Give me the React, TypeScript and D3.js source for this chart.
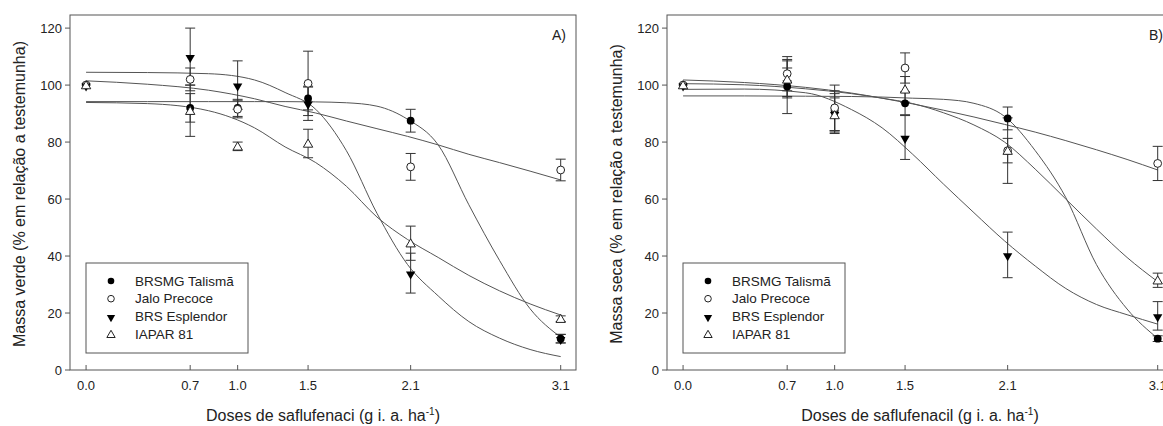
import React from "react";
import * as d3 from "d3";

const W = 1163;
const H = 426;
const FONT = "'Liberation Sans', Arial, sans-serif";

// doses (x position as plotted) and their printed labels
const doses = [0, 0.68, 0.99, 1.45, 2.12, 3.1];
const doseLabels = ["0.0", "0.7", "1.0", "1.5", "2.1", "3.1"];
const yTicks = [0, 20, 40, 60, 80, 100, 120];
const cultivars = ["BRSMG Talismã", "Jalo Precoce", "BRS Esplendor", "IAPAR 81"];

// fitted curves at these doses
const curveDoses = [0, 0.4, 0.8, 1.1, 1.3, 1.5, 1.7, 1.9, 2.1, 2.3, 2.5, 2.7, 2.9, 3.1];

// A) massa verde
const verdeTalisma = [100, 92, 92, 95.3, 87.5, 11];
const verdeTalismaErr = [0, 5, 3, 4, 4, 1.5];
const verdeJalo = [100, 102, 91.5, 100.6, 71.3, 70.2];
const verdeJaloErr = [0, 4, 3, 11.3, 4.7, 3.8];
const verdeEsplendor = [100, 110, 100, 93.6, 34, 11];
const verdeEsplendorErr = [0, 10, 8.5, 6, 7, 1.5];
const verdeIapar = [100, 91, 78.5, 79.5, 44.5, 18];
const verdeIaparErr = [0, 9, 1.5, 5, 6, 1];

const verdeTalismaFit = [94.2, 94.2, 94.2, 94.2, 94.2, 94.1, 93.8, 92.6, 88, 79, 58, 38.5, 21.5, 11.5];
const verdeJaloFit = [101.5, 100.3, 98.2, 95.2, 92.5, 90.2, 87.4, 84.7, 82, 79, 75.7, 72.8, 69.8, 66.7];
const verdeEsplendorFit = [104.5, 104.4, 104, 101.8, 97.4, 91.5, 77, 55, 37, 26, 17, 11.2, 7.2, 4.7];
const verdeIaparFit = [93.9, 93.5, 91, 85, 78.3, 72.8, 64.5, 53.7, 45.8, 39.5, 33.2, 27.8, 23.2, 19.3];

// B) massa seca
const secaTalisma = [100, 99.5, 91, 93.6, 88.3, 11];
const secaTalismaErr = [0, 9.5, 7, 4, 4, 1];
const secaJalo = [100, 104, 92, 106, 77, 72.5];
const secaJaloErr = [0, 6, 8, 5.3, 4.3, 6];
const secaEsplendor = [100, 101, 90, 81.6, 40.4, 19];
const secaEsplendorErr = [0, 5, 7, 7.7, 8, 5];
const secaIapar = [100, 102, 89.5, 98.5, 77, 31.5];
const secaIaparErr = [0, 6.5, 6, 4.5, 11.5, 2.5];

const secaTalismaFit = [96.2, 96.2, 96.1, 96, 95.8, 95.4, 95, 93.6, 89, 77, 60.5, 37, 21.4, 11.1];
const secaJaloFit = [101.8, 100.9, 99.2, 97.2, 95.4, 93.4, 91.2, 88.8, 86.2, 83.5, 80.5, 77.3, 73.9, 70.2];
const secaEsplendorFit = [98.5, 98.6, 97.3, 91.4, 85, 75.7, 65.3, 55.2, 45.3, 36.5, 28.6, 23, 19.4, 16.1];
const secaIaparFit = [100.5, 100.1, 98.7, 97, 95.4, 93.5, 90.3, 86, 80, 70.5, 60, 49.5, 39.5, 31];

const shapes = ["dot", "ring", "down", "up"];

const makeSeries = (vals, errs, fits) =>
  cultivars.map((name, i) => ({ name, shape: shapes[i], values: vals[i], err: errs[i], fit: fits[i] }));

const verdeSeries = makeSeries(
  [verdeTalisma, verdeJalo, verdeEsplendor, verdeIapar],
  [verdeTalismaErr, verdeJaloErr, verdeEsplendorErr, verdeIaparErr],
  [verdeTalismaFit, verdeJaloFit, verdeEsplendorFit, verdeIaparFit]
);
const secaSeries = makeSeries(
  [secaTalisma, secaJalo, secaEsplendor, secaIapar],
  [secaTalismaErr, secaJaloErr, secaEsplendorErr, secaIaparErr],
  [secaTalismaFit, secaJaloFit, secaEsplendorFit, secaIaparFit]
);

const tri = d3.symbol(d3.symbolTriangle, 38)();
const triSmall = d3.symbol(d3.symbolTriangle, 30)();

const Marker = ({ shape, x, y, small = false }) => {
  const r = small ? 3.3 : 3.9;
  const p = small ? triSmall : tri;
  if (shape === "dot") return <circle cx={x} cy={y} r={r} fill="#000" />;
  if (shape === "ring") return <circle cx={x} cy={y} r={r} fill="#fff" stroke="#222" strokeWidth={1} />;
  if (shape === "down")
    return <path d={p} transform={`translate(${x},${y + 1}) rotate(180)`} fill="#000" />;
  return <path d={p} transform={`translate(${x},${y + 1})`} fill="#fff" stroke="#222" strokeWidth={1} />;
};

const TOP = 15;
const BOTTOM = 370;
const PW = 506;

const Panel = ({ left, series, tag, yTitle, xTitle }) => {
  const x = d3.scaleLinear().domain([-0.105, 3.2]).range([left, left + PW]);
  const y = d3.scaleLinear().domain([0, 124.6]).range([BOTTOM, TOP]);
  const line = d3
    .line()
    .x((d) => x(d[0]))
    .y((d) => y(d[1]))
    .curve(d3.curveMonotoneX);
  const cx = left + PW / 2;
  const lgX = left + 16;
  const lgY = 263;

  return (
    <g fontFamily={FONT}>
      <rect x={left} y={TOP} width={PW} height={BOTTOM - TOP} fill="none" stroke="#555" strokeWidth={1} />
      {yTicks.map((t) => (
        <g key={t}>
          <line x1={left - 5} x2={left} y1={y(t)} y2={y(t)} stroke="#555" />
          <text x={left - 8} y={y(t)} dy="0.35em" textAnchor="end" fontSize={13} fill="#222">
            {t}
          </text>
        </g>
      ))}
      {doses.map((d, i) => (
        <g key={i}>
          <line x1={x(d)} x2={x(d)} y1={BOTTOM} y2={BOTTOM - 5} stroke="#555" />
          <text x={x(d)} y={390} textAnchor="middle" fontSize={13} fill="#222">
            {doseLabels[i]}
          </text>
        </g>
      ))}
      <text
        transform={`translate(${left - 45},194) rotate(-90)`}
        textAnchor="middle"
        fontSize={16}
        fill="#222"
      >
        {yTitle}
      </text>
      <text x={cx} y={421} textAnchor="middle" fontSize={16} fill="#222">
        {xTitle} (g i. a. ha
        <tspan dy={-6} fontSize={10}>-1</tspan>
        <tspan dy={6}>)</tspan>
      </text>
      <text x={left + 482} y={40} fontSize={14} fill="#222">
        {tag}
      </text>

      {series.map((s) => (
        <path
          key={s.name}
          d={line(curveDoses.map((d, i) => [d, s.fit[i]]))}
          fill="none"
          stroke="#555"
          strokeWidth={1}
        />
      ))}
      {series.map((s) => (
        <g key={s.name}>
          {s.values.map((v, i) =>
            s.err[i] > 0 ? (
              <g key={i} stroke="#333" strokeWidth={1}>
                <line x1={x(doses[i])} x2={x(doses[i])} y1={y(v - s.err[i])} y2={y(v + s.err[i])} />
                <line x1={x(doses[i]) - 5} x2={x(doses[i]) + 5} y1={y(v - s.err[i])} y2={y(v - s.err[i])} />
                <line x1={x(doses[i]) - 5} x2={x(doses[i]) + 5} y1={y(v + s.err[i])} y2={y(v + s.err[i])} />
              </g>
            ) : null
          )}
        </g>
      ))}
      {series.map((s) => (
        <g key={s.name}>
          {s.values.map((v, i) => (
            <Marker key={i} shape={s.shape} x={x(doses[i])} y={y(v)} />
          ))}
        </g>
      ))}

      <rect x={lgX} y={lgY} width={162} height={90} fill="#fff" stroke="#555" strokeWidth={1} />
      {series.map((s, i) => (
        <g key={s.name}>
          <Marker shape={s.shape} x={lgX + 25} y={lgY + 18 + i * 17.7} small />
          <text x={lgX + 49} y={lgY + 18 + i * 17.7} dy="0.35em" fontSize={13.5} fill="#222">
            {s.name}
          </text>
        </g>
      ))}
    </g>
  );
};

export default function App() {
  return (
    <svg
      width={W}
      height={H}
      style={{ position: "absolute", left: 0, top: 0, display: "block", background: "#fff" }}
    >
      <Panel
        left={70}
        series={verdeSeries}
        tag="A)"
        yTitle="Massa verde (% em relação a testemunha)"
        xTitle="Doses de saflufenaci"
      />
      <Panel
        left={667}
        series={secaSeries}
        tag="B)"
        yTitle="Massa seca (% em relação a testemunha)"
        xTitle="Doses de saflufenacil"
      />
    </svg>
  );
}
